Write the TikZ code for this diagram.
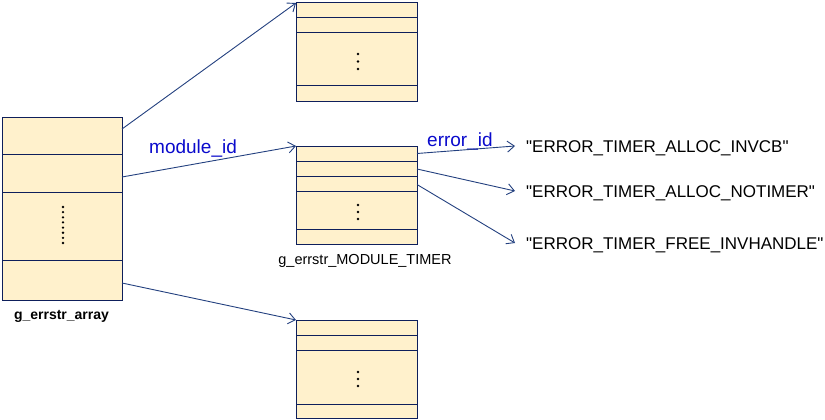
\documentclass[tikz,border=0pt]{standalone}
\usepackage{fontspec}
\setmainfont{Liberation Sans}
\newfontfamily\plainfont{Liberation Sans}
\usetikzlibrary{arrows.meta}
\definecolor{boxfill}{HTML}{FFF1CC}
\definecolor{boxline}{HTML}{0E1F5B}
\definecolor{arrline}{HTML}{23407F}
\definecolor{lblblue}{HTML}{0A0ACC}
\newcommand{\dq}{\symbol{34}}
\begin{document}
\begin{tikzpicture}[x=1pt,y=-1pt,
  tbl/.style={draw=boxline,fill=boxfill,line width=1pt,inner sep=0pt,outer sep=0pt,anchor=north west},
  divider/.style={draw=boxline,line width=1pt},
  dot/.style={fill=black},
  conn/.style={draw=arrline,line width=0.9pt,-{Straight Barb[length=7pt,width=11pt,line width=0.9pt]}},
  keylbl/.style={text=lblblue,font=\fontsize{19}{21}\selectfont,inner sep=0pt,anchor=base west},
  strlbl/.style={font=\plainfont\fontsize{17}{19}\selectfont,inner sep=0pt,anchor=base west},
  namelbl/.style={inner sep=0pt,anchor=base}]
\useasboundingbox (0,0) rectangle (825,420);
% left array
\node[tbl,minimum width=120pt,minimum height=183pt] (arr) at (2,117) {};
\foreach \yy in {154,192,260} \draw[divider] (arr.west |- 0,\yy) -- (arr.east |- 0,\yy);
\foreach \yy in {207,212.1,217.3,222.4,227.6,232.7,237.9,243} \fill[dot] (63,\yy) circle (1.3);
\node[namelbl,font=\bfseries\fontsize{14}{16}\selectfont] (arrname) at (61.5,319) {g\_errstr\_array};
% top table
\node[tbl,minimum width=121pt,minimum height=98pt] (t1) at (296,3) {};
\foreach \yy in {18,33,86} \draw[divider] (t1.west |- 0,\yy) -- (t1.east |- 0,\yy);
\foreach \yy in {54,61.5,69} \fill[dot] (358,\yy) circle (1.3);
% middle table
\node[tbl,minimum width=121pt,minimum height=98pt] (t2) at (296,146) {};
\foreach \yy in {161,176,191,229} \draw[divider] (t2.west |- 0,\yy) -- (t2.east |- 0,\yy);
\foreach \yy in {205,212,219} \fill[dot] (358,\yy) circle (1.3);
\node[namelbl,font=\fontsize{14.5}{16}\selectfont] (t2name) at (365,264) {g\_errstr\_MODULE\_TIMER};
% bottom table
\node[tbl,minimum width=121pt,minimum height=98pt] (t3) at (296,320) {};
\foreach \yy in {335,350,404} \draw[divider] (t3.west |- 0,\yy) -- (t3.east |- 0,\yy);
\foreach \yy in {372,379,386} \fill[dot] (358,\yy) circle (1.3);
% strings
\node[strlbl] (s1) at (526,152) {\dq ERROR\_TIMER\_ALLOC\_INVCB\dq};
\node[strlbl] (s2) at (526,197) {\dq ERROR\_TIMER\_ALLOC\_NOTIMER\dq};
\node[strlbl] (s3) at (526,249.5) {\dq ERROR\_TIMER\_FREE\_INVHANDLE\dq};
% labels
\node[keylbl] (modid) at (149,153) {module\_id};
\node[keylbl] (errid) at (427,146) {error\_id};
% connectors
\coordinate (a1) at (arr.east |- 0,129);
\coordinate (a2) at (arr.east |- 0,177);
\coordinate (a3) at (arr.east |- 0,283);
\draw[conn] (a1) -- (t1.north west);
\draw[conn] (a2) -- (t2.north west);
\draw[conn] (a3) -- (t3.north west);
\coordinate (b1) at (t2.east |- 0,153.5);
\coordinate (b2) at (t2.east |- 0,169);
\coordinate (b3) at (t2.east |- 0,184.5);
\coordinate (e1) at (515,146);
\coordinate (e2) at (515,191);
\coordinate (e3) at (515,243);
\draw[conn] (b1) -- (e1);
\draw[conn] (b2) -- (e2);
\draw[conn] (b3) -- (e3);
\end{tikzpicture}
\end{document}
